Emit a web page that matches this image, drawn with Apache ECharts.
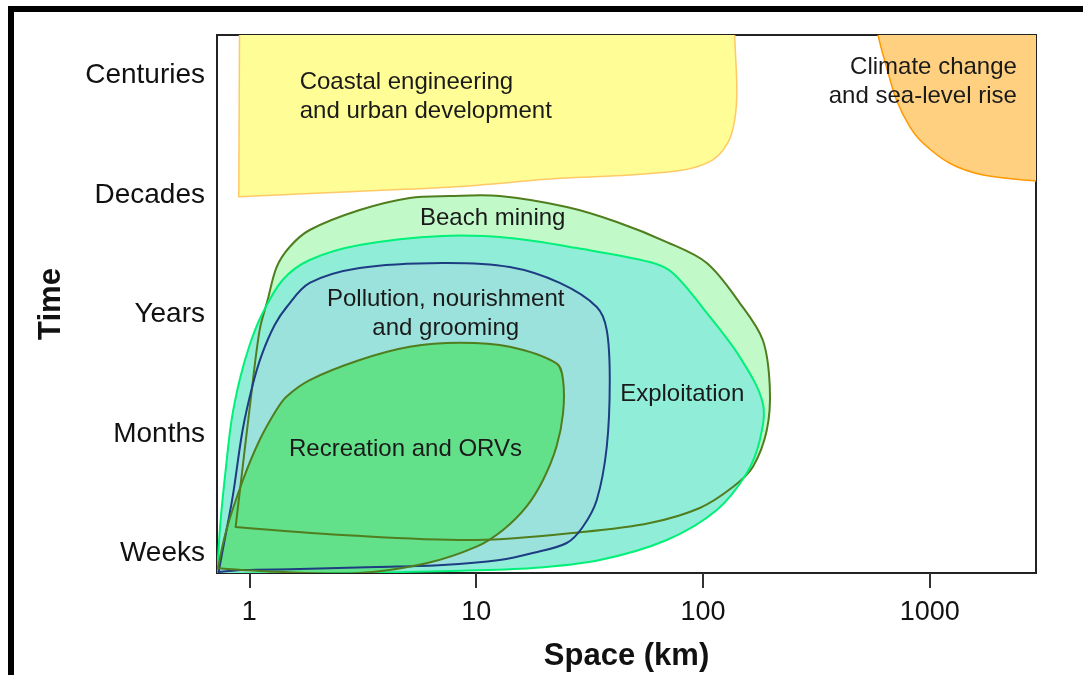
<!DOCTYPE html>
<html>
<head>
<meta charset="utf-8">
<title>Space and time scales of beach threats</title>
<script src="https://cdn.jsdelivr.net/npm/echarts@6/dist/echarts.min.js"></script>
<style>
html, body { margin: 0; padding: 0; background: #fff; }
#chart { width: 1083px; height: 675px; }
</style>
</head>
<body>
<div id="chart"></div>
<script>
// axis ticks
const spaceTicks = [1, 10, 100, 1000];
const timeTicks = [1, 2, 3, 4, 5];
const timeLabels = ['Weeks', 'Months', 'Years', 'Decades', 'Centuries'];

// outlines as [space (km), time level]
const coastalEngineering = [
    [0.906, 5.5], [0.898, 3.947], [2.77, 3.989], [8.08, 4.031], [23.5, 4.101],
    [47.5, 4.129], [81.5, 4.17], [110, 4.254], [128.6, 4.397], [138, 4.589],
    [141, 4.84], [138, 5.3], [138, 5.5]
];
const climateChange = [
    [578, 5.5], [592, 5.3], [644, 5.035], [713, 4.756], [816, 4.533], [935, 4.394],
    [1225, 4.227], [1719, 4.129], [2936, 4.079], [3750, 4.07], [3750, 5.5]
];
const beachMining = [
    [0.870, 1.185], [1.013, 2.247], [1.110, 2.832], [1.204, 3.083], [1.319, 3.359],
    [1.505, 3.527], [1.845, 3.669], [3.064, 3.836], [5.093, 3.937], [7.644, 3.953],
    [12.70, 3.953], [25.08, 3.861], [41.69, 3.736], [69.25, 3.568], [103.9, 3.393],
    [145.3, 3.058], [183.5, 2.749], [197.1, 2.356], [191.2, 1.996], [165.8, 1.687],
    [135.4, 1.519], [96.8, 1.344], [58.3, 1.218], [29.5, 1.143], [10.06, 1.076],
    [2.579, 1.118]
];
const exploitation = [
    [0.72, 0.79], [0.747, 1.243], [0.786, 1.661], [0.835, 2.080], [0.906, 2.414],
    [1.003, 2.707], [1.133, 2.958], [1.402, 3.251], [1.845, 3.418], [3.064, 3.543],
    [7.12, 3.619], [14.06, 3.602], [27.76, 3.518], [58.3, 3.401], [73.6, 3.309],
    [103.9, 2.975], [145.3, 2.607], [183.5, 2.222], [178.1, 1.912], [156.1, 1.636],
    [115.1, 1.327], [69.25, 1.076], [35.07, 0.909], [17.76, 0.842], [7.644, 0.817],
    [2.579, 0.8], [1.0, 0.795]
];
const pollution = [
    [0.732, 0.808], [0.778, 1.076], [0.844, 1.436], [0.934, 1.996], [1.034, 2.372],
    [1.133, 2.623], [1.293, 2.874], [1.461, 3.025], [1.845, 3.226], [3.064, 3.351],
    [7.12, 3.393], [14.06, 3.359], [23.36, 3.226], [34.02, 3.025], [37.65, 2.832],
    [38.82, 2.414], [37.65, 1.854], [34.02, 1.411], [29.5, 1.185], [25.08, 1.051],
    [17.76, 0.967], [12.70, 0.909], [7.12, 0.867], [3.642, 0.850], [1.667, 0.833],
    [0.934, 0.825]
];
const recreation = [
    [0.727, 0.84], [1.315, 0.81], [3.064, 0.80], [6.034, 0.881], [10.03, 1.020],
    [13.14, 1.160], [16.66, 1.355], [19.72, 1.578], [22.59, 1.856], [24.16, 2.136],
    [24.16, 2.414], [22.59, 2.554], [14.06, 2.693], [8.46, 2.726], [5.093, 2.693],
    [3.064, 2.582], [1.845, 2.414], [1.456, 2.275], [1.315, 2.163], [1.110, 1.912],
    [0.937, 1.578], [0.792, 1.160]
];

const FONT = '"Liberation Sans", Arial, Helvetica, sans-serif';

// drawing order = stacking order
const shapes = [
    { data: coastalEngineering, corners: [0, 1, 12], fill: '#FFFD96', stroke: '#FFC966', width: 1.5,
      text: 'Coastal engineering\nand urban development', at: [1.667, 4.785], align: 'left' },
    { data: climateChange, corners: [0, 9, 10], fill: '#FFD080', stroke: '#FF9900', width: 1.5,
      text: 'Climate change\nand sea-level rise', at: [2421, 4.909], align: 'right' },
    { data: beachMining, corners: [0], fill: '#C1F9C9', stroke: '#507D1E', width: 2,
      text: 'Beach mining', at: [11.83, 3.769], align: 'center' },
    { data: exploitation, corners: [0], fill: '#90EED8', stroke: '#00F078', width: 2,
      text: 'Exploitation', at: [81.0, 2.297], align: 'center' },
    { data: pollution, corners: [0], fill: '#9CE2DC', stroke: '#1E3C82', width: 2,
      text: 'Pollution, nourishment\nand grooming', at: [7.34, 2.966], align: 'center' },
    { data: recreation, corners: [0], fill: '#62E08A', stroke: '#507D1E', width: 2,
      text: 'Recreation and ORVs', at: [4.88, 1.837], align: 'center' }
];

// closed smooth outline; corner points get no handles
function outlinePath(pts, corners) {
    const n = pts.length;
    const k = 0.33;
    const tan = pts.map((p, i) => {
        if (corners.indexOf(i) >= 0) return null;
        const a = pts[(i - 1 + n) % n];
        const b = pts[(i + 1) % n];
        const dx = b[0] - a[0], dy = b[1] - a[1];
        const len = Math.hypot(dx, dy) || 1;
        return [dx / len, dy / len];
    });
    let d = `M${pts[0][0]},${pts[0][1]}`;
    for (let i = 0; i < n; i++) {
        const p = pts[i];
        const q = pts[(i + 1) % n];
        const seg = Math.hypot(q[0] - p[0], q[1] - p[1]) * k;
        const t0 = tan[i];
        const t1 = tan[(i + 1) % n];
        const c1 = t0 ? [p[0] + t0[0] * seg, p[1] + t0[1] * seg] : p;
        const c2 = t1 ? [q[0] - t1[0] * seg, q[1] - t1[1] * seg] : q;
        d += ` C${c1[0]},${c1[1]} ${c2[0]},${c2[1]} ${q[0]},${q[1]}`;
    }
    return d + ' Z';
}

function shapeSeries(s, mode) {
    return {
        type: 'custom',
        coordinateSystem: 'cartesian2d',
        clip: true,
        silent: true,
        z: mode === 'fill' ? 2 : 3,
        data: s.data,
        renderItem(params, api) {
            if (params.dataIndex !== 0) return;
            const pts = s.data.map(p => api.coord(p));
            return {
                type: 'path',
                shape: { pathData: outlinePath(pts, s.corners) },
                style: mode === 'fill'
                    ? { fill: s.fill, stroke: null }
                    : { fill: null, stroke: s.stroke, lineWidth: s.width, lineJoin: 'round' }
            };
        }
    };
}

const labelSeries = {
    type: 'custom',
    coordinateSystem: 'cartesian2d',
    silent: true,
    z: 4,
    data: shapes.map(s => s.at),
    renderItem(params, api) {
        const s = shapes[params.dataIndex];
        const pos = api.coord(s.at);
        return {
            type: 'text',
            x: pos[0],
            y: pos[1],
            style: {
                text: s.text,
                fill: '#1a1a1a',
                font: `24px ${FONT}`,
                lineHeight: 29,
                textAlign: s.align,
                textVerticalAlign: 'middle'
            }
        };
    }
};

const chart = echarts.init(document.getElementById('chart'));

chart.setOption({
    backgroundColor: '#ffffff',
    animation: false,
    grid: {
        left: 217,
        right: 47,
        top: 35,
        bottom: 102,
        outerBoundsMode: 'none',
        show: true,
        borderColor: '#222',
        borderWidth: 2,
        backgroundColor: 'transparent'
    },
    xAxis: {
        type: 'log',
        logBase: 10,
        min: 0.72,
        max: 2940,
        name: 'Space (km)',
        nameLocation: 'middle',
        nameGap: 68,
        nameTextStyle: { color: '#111', fontFamily: FONT, fontSize: 31, fontWeight: 'bold' },
        axisLine: { show: true, lineStyle: { color: '#222', width: 2 } },
        axisTick: { show: true, length: 15, customValues: spaceTicks, lineStyle: { color: '#333', width: 2 } },
        axisLabel: {
            customValues: spaceTicks,
            margin: 26,
            color: '#111',
            fontFamily: FONT,
            fontSize: 27,
            formatter: v => String(Math.round(v))
        },
        splitLine: { show: false },
        minorTick: { show: false }
    },
    yAxis: {
        type: 'value',
        min: 0.8,
        max: 5.3,
        name: 'Time',
        nameLocation: 'middle',
        nameGap: 150,
        nameTextStyle: { color: '#111', fontFamily: FONT, fontSize: 31, fontWeight: 'bold' },
        axisLine: { show: true, lineStyle: { color: '#222', width: 2 } },
        axisTick: { show: false },
        axisLabel: {
            customValues: timeTicks,
            margin: 12,
            verticalAlign: 'top',
            lineHeight: 9,
            color: '#111',
            fontFamily: FONT,
            fontSize: 28,
            formatter: v => timeLabels[Math.round(v) - 1]
        },
        splitLine: { show: false }
    },
    graphic: [
        { type: 'rect', left: 8, top: 6, shape: { width: 1075, height: 6 }, style: { fill: '#000' } },
        { type: 'rect', left: 8, top: 6, shape: { width: 6, height: 669 }, style: { fill: '#000' } }
    ],
    series: [
        ...shapes.map(s => shapeSeries(s, 'fill')),
        ...shapes.map(s => shapeSeries(s, 'stroke')),
        labelSeries
    ]
});

window.addEventListener('resize', () => chart.resize());
</script>
</body>
</html>
